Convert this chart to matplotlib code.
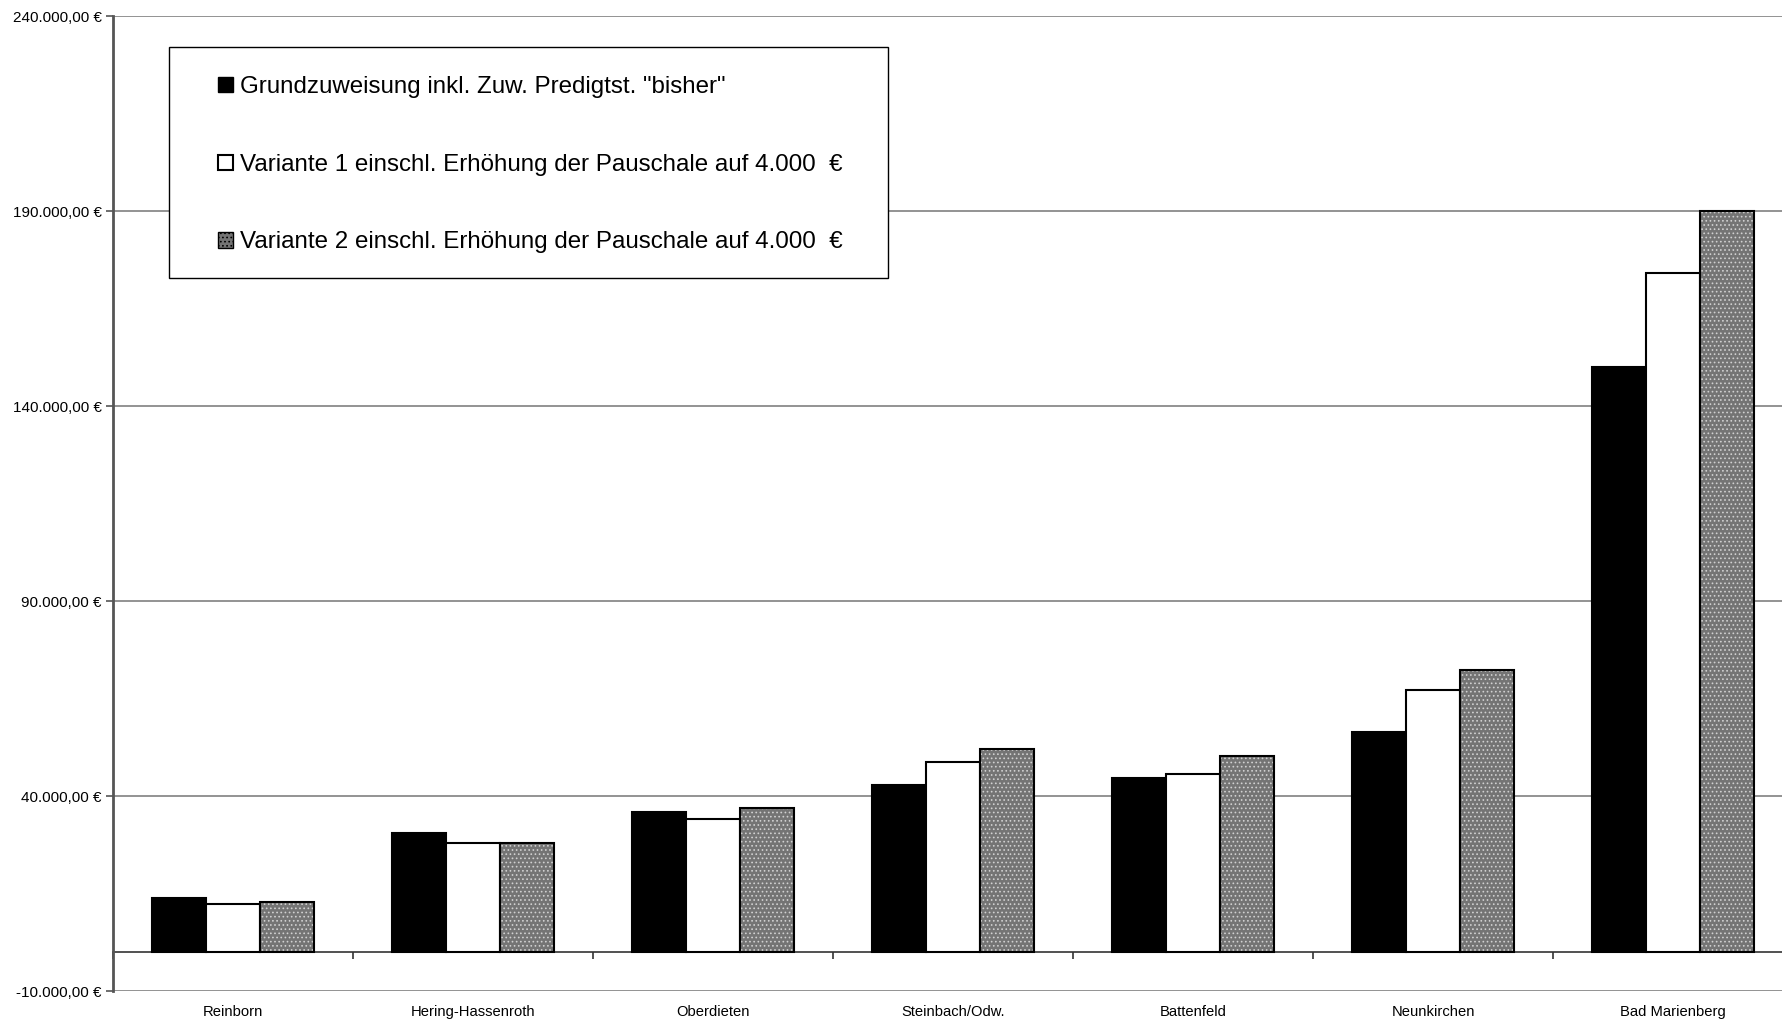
import matplotlib
matplotlib.use("Agg")
import matplotlib.pyplot as plt
from matplotlib.patches import Patch, Rectangle
from matplotlib.ticker import FuncFormatter
import numpy as np

plt.rcParams['font.family'] = ['Liberation Sans', 'DejaVu Sans']
plt.rcParams['hatch.linewidth'] = 0.7

categories = ["Reinborn", "Hering-Hassenroth", "Oberdieten", "Steinbach/Odw.",
              "Battenfeld", "Neunkirchen", "Bad Marienberg"]
bisher = [13900, 30500, 36000, 43000, 44800, 56400, 150000]
variante1 = [12400, 27900, 34300, 48900, 45700, 67200, 174200]
variante2 = [13000, 27900, 36900, 52100, 50300, 72500, 190000]
labels = ['Grundzuweisung inkl. Zuw. Predigtst. "bisher"',
          'Variante 1 einschl. Erhöhung der Pauschale auf 4.000  €',
          'Variante 2 einschl. Erhöhung der Pauschale auf 4.000  €']
y_ticks = [-10000, 40000, 90000, 140000, 190000, 240000]


def euro(v, pos):
    s = f"{v:,.2f}".replace(",", "X").replace(".", ",").replace("X", ".")
    return s + " €"


fig = plt.figure(figsize=(17.82, 10.23), dpi=100)
ax = fig.add_axes([0.0634, 0.031, 0.943, 0.953])

x = np.arange(len(categories))
w = 0.225

ax.bar(x - w, bisher, w, color="black", edgecolor="black", linewidth=1.5, zorder=3)
ax.bar(x, variante1, w, color="white", edgecolor="black", linewidth=1.5, zorder=3)
# hatched gray fill, then outline on top
ax.bar(x + w, variante2, w, color="#747474", edgecolor="#d0d0d0", hatch="....",
       linewidth=0, zorder=3)
ax.bar(x + w, variante2, w, fill=False, edgecolor="black", linewidth=1.5, zorder=4)

ax.set_xlim(-0.5, len(categories) - 0.5)
ax.set_ylim(-10000, 240000)
ax.set_yticks(y_ticks)
ax.yaxis.set_major_formatter(FuncFormatter(euro))
ax.tick_params(axis="y", labelsize=11, length=5, width=1.2, color="#555555", pad=3)
ax.yaxis.grid(True, color="#808080", linewidth=1.2, zorder=0)

ax.set_xticks(x)
ax.set_xticklabels(categories)
ax.tick_params(axis="x", length=0, labelsize=10.6, pad=10)

for side in ["top", "right", "bottom"]:
    ax.spines[side].set_visible(False)
ax.spines["left"].set_color("#555555")
ax.spines["left"].set_linewidth(2)

# category axis at zero with boundary ticks
sec = ax.secondary_xaxis(10000 / 250000)
sec.set_xticks(np.arange(len(categories) + 1) - 0.5)
sec.set_xticklabels([])
sec.tick_params(length=5, width=1.2, color="#333333", direction="out")
sec.spines["bottom"].set_color("#333333")
sec.spines["bottom"].set_linewidth(1.2)

# legend
handles = [Patch(facecolor="black", edgecolor="black"),
           Patch(facecolor="white", edgecolor="black", linewidth=1.5),
           Patch(facecolor="#747474", edgecolor="black", hatch="....", linewidth=1.0)]
frame = Rectangle((0.0331, 0.732), 0.4284, 0.2366, transform=ax.transAxes,
                  facecolor="white", edgecolor="black", linewidth=1.0, zorder=5)
ax.add_patch(frame)
leg = ax.legend(handles, labels, loc="upper left", bbox_to_anchor=(0.0625, 0.9385),
                frameon=False, fontsize=17.4, handlelength=0.6, handleheight=0.6,
                handletextpad=0.3, labelspacing=2.3, borderpad=0, borderaxespad=0)
leg.set_zorder(6)

fig.savefig("out.png", dpi=100)
